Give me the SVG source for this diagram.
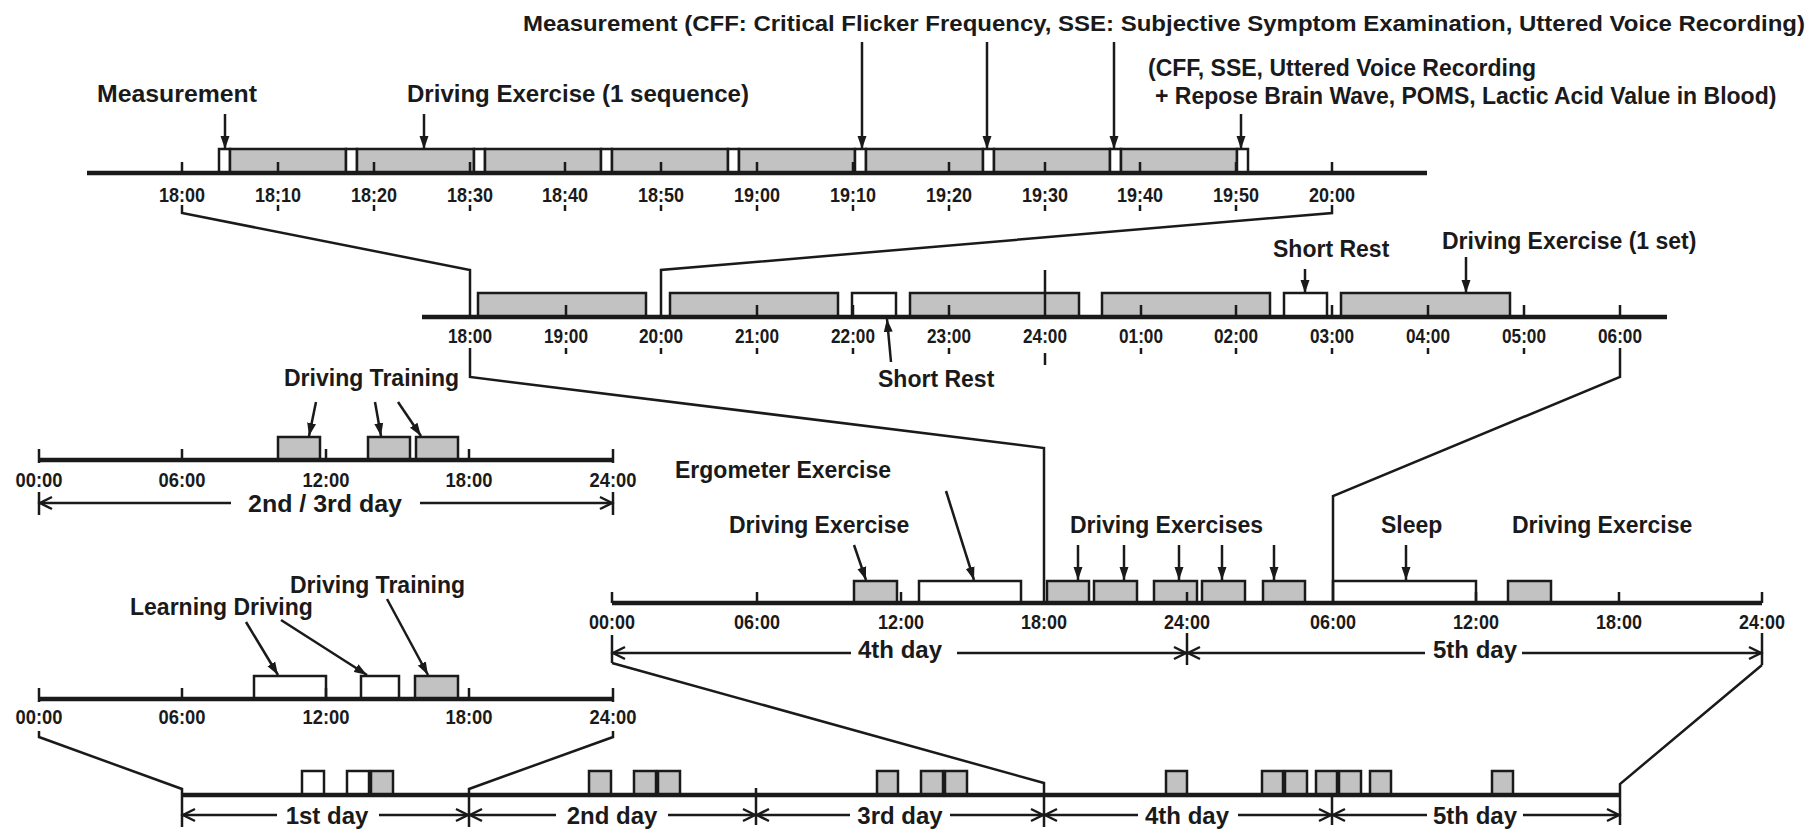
<svg xmlns="http://www.w3.org/2000/svg" width="1814" height="834" viewBox="0 0 1814 834">
<style>
text{font-family:"Liberation Sans",Arial,sans-serif;font-weight:bold;fill:#1a1a1a}
.lbl{font-size:23px}
.tl{font-size:20px;text-anchor:middle}
.day{font-size:24px;text-anchor:middle}
.axis{stroke:#1a1a1a;stroke-width:4.5;fill:none}
.tk{stroke:#1a1a1a;stroke-width:2.5;fill:none}
.g{fill:#c2c2c2;stroke:#1a1a1a;stroke-width:2.5}
.w{fill:#fff;stroke:#1a1a1a;stroke-width:2.5}
.ar{stroke:#1a1a1a;stroke-width:2.5;fill:none;marker-end:url(#ah)}
.dim{stroke:#1a1a1a;stroke-width:2.5;fill:none}
.ds{marker-start:url(#ch)}
.de{marker-end:url(#ch)}
.cn{stroke:#1a1a1a;stroke-width:2.5;fill:none;stroke-linejoin:miter}
</style>
<defs>
<marker id="ah" markerUnits="userSpaceOnUse" markerWidth="14" markerHeight="10" refX="13" refY="5" orient="auto" viewBox="0 0 14 10">
<path d="M0,0.5 L13,5 L0,9.5 z" fill="#1a1a1a"/>
</marker>
<marker id="ch" markerUnits="userSpaceOnUse" markerWidth="16" markerHeight="16" refX="13" refY="8" orient="auto-start-reverse" viewBox="0 0 16 16">
<path d="M1,2 L13,8 L1,14" fill="none" stroke="#1a1a1a" stroke-width="2.5"/>
</marker>
</defs>
<rect width="1814" height="834" fill="#fff"/>

<!-- Top panel: 18:00-20:00 -->
<g id="panel-sequence">
<text class="lbl" x="523" y="31" style="font-size:22px" textLength="1282" lengthAdjust="spacingAndGlyphs">Measurement (CFF: Critical Flicker Frequency, SSE: Subjective Symptom Examination, Uttered Voice Recording)</text>
<text class="lbl" x="97" y="102" textLength="160" lengthAdjust="spacingAndGlyphs">Measurement</text>
<text class="lbl" x="407" y="102" textLength="342" lengthAdjust="spacingAndGlyphs">Driving Exercise (1 sequence)</text>
<text class="lbl" x="1148" y="76">(CFF, SSE, Uttered Voice Recording</text>
<text class="lbl" x="1155" y="104">+ Repose Brain Wave, POMS, Lactic Acid Value in Blood)</text>
<rect class="w" x="219" y="149" width="11" height="24"/>
<rect class="g" x="230" y="149" width="116" height="24"/>
<rect class="w" x="346" y="149" width="11" height="24"/>
<rect class="g" x="357" y="149" width="117" height="24"/>
<rect class="w" x="474" y="149" width="11" height="24"/>
<rect class="g" x="485" y="149" width="116" height="24"/>
<rect class="w" x="601" y="149" width="11" height="24"/>
<rect class="g" x="612" y="149" width="116" height="24"/>
<rect class="w" x="728" y="149" width="11" height="24"/>
<rect class="g" x="739" y="149" width="116" height="24"/>
<rect class="w" x="855" y="149" width="11" height="24"/>
<rect class="g" x="866" y="149" width="117" height="24"/>
<rect class="w" x="983" y="149" width="11" height="24"/>
<rect class="g" x="994" y="149" width="116" height="24"/>
<rect class="w" x="1110" y="149" width="11" height="24"/>
<rect class="g" x="1121" y="149" width="116" height="24"/>
<rect class="w" x="1237" y="149" width="11" height="24"/>
<line class="axis" x1="87" y1="173" x2="1427" y2="173"/>
<path class="tk" d="M182,162V173M278,162V173M374,162V173M470,162V173M565,162V173M661,162V173M757,162V173M853,162V173M949,162V173M1045,162V173M1140,162V173M1236,162V173M1332,162V173"/>
<path class="tk" d="M278,205V211M374,205V211M470,205V211M565,205V211M661,205V211M757,205V211M853,205V211M949,205V211M1045,205V211M1140,205V211M1236,205V211"/>
<text class="tl" x="182" y="202" textLength="46" lengthAdjust="spacingAndGlyphs">18:00</text>
<text class="tl" x="278" y="202" textLength="46" lengthAdjust="spacingAndGlyphs">18:10</text>
<text class="tl" x="374" y="202" textLength="46" lengthAdjust="spacingAndGlyphs">18:20</text>
<text class="tl" x="470" y="202" textLength="46" lengthAdjust="spacingAndGlyphs">18:30</text>
<text class="tl" x="565" y="202" textLength="46" lengthAdjust="spacingAndGlyphs">18:40</text>
<text class="tl" x="661" y="202" textLength="46" lengthAdjust="spacingAndGlyphs">18:50</text>
<text class="tl" x="757" y="202" textLength="46" lengthAdjust="spacingAndGlyphs">19:00</text>
<text class="tl" x="853" y="202" textLength="46" lengthAdjust="spacingAndGlyphs">19:10</text>
<text class="tl" x="949" y="202" textLength="46" lengthAdjust="spacingAndGlyphs">19:20</text>
<text class="tl" x="1045" y="202" textLength="46" lengthAdjust="spacingAndGlyphs">19:30</text>
<text class="tl" x="1140" y="202" textLength="46" lengthAdjust="spacingAndGlyphs">19:40</text>
<text class="tl" x="1236" y="202" textLength="46" lengthAdjust="spacingAndGlyphs">19:50</text>
<text class="tl" x="1332" y="202" textLength="46" lengthAdjust="spacingAndGlyphs">20:00</text>
<line class="ar" x1="225" y1="114" x2="225" y2="149"/>
<line class="ar" x1="424" y1="114" x2="424" y2="149"/>
<line class="ar" x1="862" y1="42" x2="862" y2="149"/>
<line class="ar" x1="987" y1="42" x2="987" y2="149"/>
<line class="ar" x1="1114" y1="42" x2="1114" y2="149"/>
<line class="ar" x1="1241" y1="114" x2="1241" y2="149"/>
</g>

<!-- Panel B: 18:00-06:00 -->
<g id="panel-night">
<text class="lbl" x="1273" y="257">Short Rest</text>
<text class="lbl" x="1442" y="249">Driving Exercise (1 set)</text>
<text class="lbl" x="878" y="387">Short Rest</text>
<rect class="g" x="478" y="293" width="168" height="24"/>
<rect class="g" x="670" y="293" width="168" height="24"/>
<rect class="w" x="852" y="293" width="44" height="24"/>
<rect class="g" x="910" y="293" width="169" height="24"/>
<rect class="g" x="1102" y="293" width="168" height="24"/>
<rect class="w" x="1284" y="293" width="43" height="24"/>
<rect class="g" x="1341" y="293" width="169" height="24"/>
<line class="axis" x1="422" y1="317" x2="1667" y2="317"/>
<path class="tk" d="M566,305V317M757,305V317M853,305V317M949,305V317M1045,270V317M1141,305V317M1236,305V317M1332,305V317M1428,305V317M1524,305V317M1620,305V317"/>
<path class="tk" d="M566,348V354M661,348V354M757,348V354M853,348V354M949,348V354M1045,353V365M1141,348V354M1236,348V354M1332,348V354M1428,348V354M1524,348V354"/>
<text class="tl" x="470" y="343" textLength="44" lengthAdjust="spacingAndGlyphs">18:00</text>
<text class="tl" x="566" y="343" textLength="44" lengthAdjust="spacingAndGlyphs">19:00</text>
<text class="tl" x="661" y="343" textLength="44" lengthAdjust="spacingAndGlyphs">20:00</text>
<text class="tl" x="757" y="343" textLength="44" lengthAdjust="spacingAndGlyphs">21:00</text>
<text class="tl" x="853" y="343" textLength="44" lengthAdjust="spacingAndGlyphs">22:00</text>
<text class="tl" x="949" y="343" textLength="44" lengthAdjust="spacingAndGlyphs">23:00</text>
<text class="tl" x="1045" y="343" textLength="44" lengthAdjust="spacingAndGlyphs">24:00</text>
<text class="tl" x="1141" y="343" textLength="44" lengthAdjust="spacingAndGlyphs">01:00</text>
<text class="tl" x="1236" y="343" textLength="44" lengthAdjust="spacingAndGlyphs">02:00</text>
<text class="tl" x="1332" y="343" textLength="44" lengthAdjust="spacingAndGlyphs">03:00</text>
<text class="tl" x="1428" y="343" textLength="44" lengthAdjust="spacingAndGlyphs">04:00</text>
<text class="tl" x="1524" y="343" textLength="44" lengthAdjust="spacingAndGlyphs">05:00</text>
<text class="tl" x="1620" y="343" textLength="44" lengthAdjust="spacingAndGlyphs">06:00</text>
<line class="ar" x1="1305" y1="269" x2="1305" y2="293"/>
<line class="ar" x1="1466" y1="257" x2="1466" y2="293"/>
<line class="ar" x1="891" y1="362" x2="887" y2="319"/>
</g>

<!-- Panel C: 2nd / 3rd day -->
<g id="panel-day23">
<text class="lbl" x="284" y="386">Driving Training</text>
<rect class="g" x="278" y="437" width="42" height="23"/>
<rect class="g" x="368" y="437" width="42" height="23"/>
<rect class="g" x="416" y="437" width="42" height="23"/>
<line class="axis" x1="39" y1="460" x2="613" y2="460"/>
<path class="tk" d="M39,449V463M182,449V460M326,449V460M469,449V460M613,449V463"/>
<text class="tl" x="39" y="487" textLength="47" lengthAdjust="spacingAndGlyphs">00:00</text>
<text class="tl" x="182" y="487" textLength="47" lengthAdjust="spacingAndGlyphs">06:00</text>
<text class="tl" x="326" y="487" textLength="47" lengthAdjust="spacingAndGlyphs">12:00</text>
<text class="tl" x="469" y="487" textLength="47" lengthAdjust="spacingAndGlyphs">18:00</text>
<text class="tl" x="613" y="487" textLength="47" lengthAdjust="spacingAndGlyphs">24:00</text>
<line class="ar" x1="316" y1="402" x2="309" y2="436"/>
<line class="ar" x1="375" y1="402" x2="381" y2="436"/>
<line class="ar" x1="398" y1="402" x2="421" y2="436"/>
<path class="dim" d="M39,492V515M613,492V515"/>
<line class="dim ds" x1="40" y1="503" x2="231" y2="503"/>
<line class="dim de" x1="420" y1="503" x2="612" y2="503"/>
<text class="day" x="325" y="512" textLength="154" lengthAdjust="spacingAndGlyphs">2nd / 3rd day</text>
</g>

<!-- Panel D: 4th / 5th day -->
<g id="panel-day45">
<text class="lbl" x="675" y="478">Ergometer Exercise</text>
<text class="lbl" x="729" y="533">Driving Exercise</text>
<text class="lbl" x="1070" y="533">Driving Exercises</text>
<text class="lbl" x="1381" y="533">Sleep</text>
<text class="lbl" x="1512" y="533">Driving Exercise</text>
<rect class="g" x="854" y="581" width="43" height="22"/>
<rect class="w" x="919" y="581" width="102" height="22"/>
<rect class="g" x="1047" y="581" width="42" height="22"/>
<rect class="g" x="1094" y="581" width="43" height="22"/>
<rect class="g" x="1154" y="581" width="43" height="22"/>
<rect class="g" x="1202" y="581" width="43" height="22"/>
<rect class="g" x="1263" y="581" width="42" height="22"/>
<rect class="w" x="1333" y="581" width="143" height="22"/>
<rect class="g" x="1508" y="581" width="43" height="22"/>
<line class="axis" x1="612" y1="603" x2="1762" y2="603"/>
<path class="tk" d="M612,592V603M757,592V603M901,592V603M1187,592V603M1476,592V603M1619,592V603M1762,592V603"/>
<text class="tl" x="612" y="629" textLength="46" lengthAdjust="spacingAndGlyphs">00:00</text>
<text class="tl" x="757" y="629" textLength="46" lengthAdjust="spacingAndGlyphs">06:00</text>
<text class="tl" x="901" y="629" textLength="46" lengthAdjust="spacingAndGlyphs">12:00</text>
<text class="tl" x="1044" y="629" textLength="46" lengthAdjust="spacingAndGlyphs">18:00</text>
<text class="tl" x="1187" y="629" textLength="46" lengthAdjust="spacingAndGlyphs">24:00</text>
<text class="tl" x="1333" y="629" textLength="46" lengthAdjust="spacingAndGlyphs">06:00</text>
<text class="tl" x="1476" y="629" textLength="46" lengthAdjust="spacingAndGlyphs">12:00</text>
<text class="tl" x="1619" y="629" textLength="46" lengthAdjust="spacingAndGlyphs">18:00</text>
<text class="tl" x="1762" y="629" textLength="46" lengthAdjust="spacingAndGlyphs">24:00</text>
<line class="ar" x1="946" y1="491" x2="974" y2="580"/>
<line class="ar" x1="854" y1="545" x2="866" y2="580"/>
<line class="ar" x1="1078" y1="545" x2="1078" y2="580"/>
<line class="ar" x1="1124" y1="545" x2="1124" y2="580"/>
<line class="ar" x1="1179" y1="545" x2="1179" y2="580"/>
<line class="ar" x1="1222" y1="545" x2="1222" y2="580"/>
<line class="ar" x1="1274" y1="545" x2="1274" y2="580"/>
<line class="ar" x1="1406" y1="545" x2="1406" y2="580"/>
<path class="dim" d="M612,635V663M1187,633V665M1762,633V665"/>
<line class="dim ds" x1="613" y1="653" x2="851" y2="653"/>
<line class="dim de" x1="957" y1="653" x2="1186" y2="653"/>
<line class="dim ds" x1="1188" y1="653" x2="1425" y2="653"/>
<line class="dim de" x1="1522" y1="653" x2="1761" y2="653"/>
<text class="day" x="900" y="658">4th day</text>
<text class="day" x="1475" y="658">5th day</text>
</g>

<!-- Panel E: 1st day -->
<g id="panel-day1">
<text class="lbl" x="290" y="593">Driving Training</text>
<text class="lbl" x="130" y="615">Learning Driving</text>
<rect class="w" x="254" y="676" width="72" height="23"/>
<rect class="w" x="361" y="676" width="38" height="23"/>
<rect class="g" x="415" y="676" width="43" height="23"/>
<line class="axis" x1="39" y1="699" x2="613" y2="699"/>
<path class="tk" d="M39,688V702M182,688V699M326,688V699M469,688V699M613,688V702"/>
<text class="tl" x="39" y="724" textLength="47" lengthAdjust="spacingAndGlyphs">00:00</text>
<text class="tl" x="182" y="724" textLength="47" lengthAdjust="spacingAndGlyphs">06:00</text>
<text class="tl" x="326" y="724" textLength="47" lengthAdjust="spacingAndGlyphs">12:00</text>
<text class="tl" x="469" y="724" textLength="47" lengthAdjust="spacingAndGlyphs">18:00</text>
<text class="tl" x="613" y="724" textLength="47" lengthAdjust="spacingAndGlyphs">24:00</text>
<line class="ar" x1="246" y1="622" x2="278" y2="675"/>
<line class="ar" x1="281" y1="620" x2="367" y2="675"/>
<line class="ar" x1="387" y1="599" x2="428" y2="675"/>
</g>

<!-- Panel F: overall 5 days -->
<g id="panel-overview">
<rect class="w" x="302" y="771" width="22" height="24"/>
<rect class="w" x="347" y="771" width="22" height="24"/>
<rect class="g" x="371" y="771" width="22" height="24"/>
<rect class="g" x="589" y="771" width="22" height="24"/>
<rect class="g" x="634" y="771" width="22" height="24"/>
<rect class="g" x="658" y="771" width="22" height="24"/>
<rect class="g" x="877" y="771" width="21" height="24"/>
<rect class="g" x="921" y="771" width="22" height="24"/>
<rect class="g" x="945" y="771" width="22" height="24"/>
<rect class="g" x="1166" y="771" width="21" height="24"/>
<rect class="g" x="1262" y="771" width="21" height="24"/>
<rect class="g" x="1285" y="771" width="22" height="24"/>
<rect class="g" x="1316" y="771" width="21" height="24"/>
<rect class="g" x="1339" y="771" width="22" height="24"/>
<rect class="g" x="1370" y="771" width="21" height="24"/>
<rect class="g" x="1492" y="771" width="21" height="24"/>
<line class="axis" x1="182" y1="795" x2="1620" y2="795"/>
<path class="dim" d="M182,795V827M469,795V827M756,788V825M1044,795V827M1332,795V825M1620,795V825"/>
<line class="dim ds" x1="183" y1="815" x2="277" y2="815"/>
<line class="dim de" x1="379" y1="815" x2="468" y2="815"/>
<line class="dim ds" x1="470" y1="815" x2="556" y2="815"/>
<line class="dim de" x1="668" y1="815" x2="755" y2="815"/>
<line class="dim ds" x1="757" y1="815" x2="850" y2="815"/>
<line class="dim de" x1="950" y1="815" x2="1043" y2="815"/>
<line class="dim ds" x1="1045" y1="815" x2="1138" y2="815"/>
<line class="dim de" x1="1238" y1="815" x2="1331" y2="815"/>
<line class="dim ds" x1="1333" y1="815" x2="1427" y2="815"/>
<line class="dim de" x1="1523" y1="815" x2="1619" y2="815"/>
<text class="day" x="327" y="824">1st day</text>
<text class="day" x="612" y="824">2nd day</text>
<text class="day" x="900" y="824">3rd day</text>
<text class="day" x="1187" y="824">4th day</text>
<text class="day" x="1475" y="824">5th day</text>
</g>

<!-- Zoom connectors -->
<g id="connectors">
<polyline class="cn" points="182,205 182,213 470,270 470,317"/>
<polyline class="cn" points="1332,205 1332,213 661,270 661,317"/>
<polyline class="cn" points="470,348 470,377 1044,448 1044,603"/>
<polyline class="cn" points="1620,348 1620,377 1333,496 1333,603"/>
<polyline class="cn" points="612,663 1044,783 1044,795"/>
<polyline class="cn" points="1762,665 1620,784 1620,795"/>
<polyline class="cn" points="39,731 39,737 182,789 182,795"/>
<polyline class="cn" points="613,731 613,737 469,789 469,795"/>
</g>
</svg>
